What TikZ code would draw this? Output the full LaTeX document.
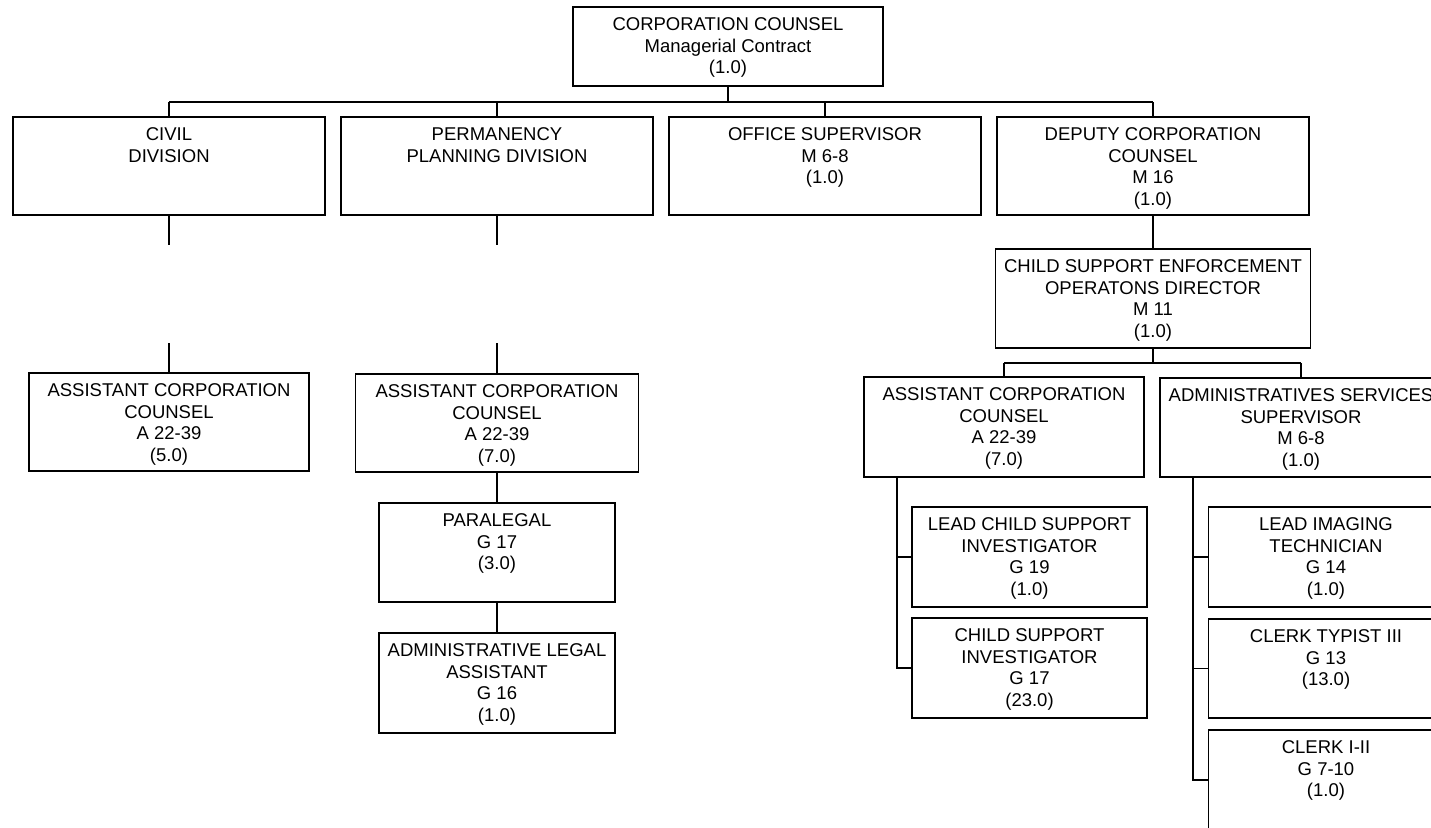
\documentclass[tikz,border=0pt]{standalone}
\usepackage{fontspec}
\setmainfont{Liberation Sans}
\newcommand\obox[6]{%
  \node[obox, minimum width=#4*0.5pt, minimum height=#5*0.5pt, anchor=north] (#1) at (#2,#3) {};
  \node[otxt, anchor=north] (#1-t) at ([yshift=-5.25pt]#1.north) {#6};
}
\begin{document}
\begin{tikzpicture}[x=0.5pt,y=-0.5pt,
  obox/.style={draw=black, line width=0.75pt, inner sep=0pt, outer sep=0pt, rectangle},
  otxt/.style={inner sep=0pt, align=center, font=\fontsize{9.25pt}{10.75pt}\selectfont},
  conn/.style={draw=black, line width=0.75pt}]
\useasboundingbox (0,0) rectangle (1431,828);
\fill[white] (0,0) rectangle (1431,828);
\clip (0,0) rectangle (1431,828);

\obox{top}{728}{7}{310}{79}{CORPORATION COUNSEL\\Managerial Contract\\(1.0)}
\obox{civil}{169}{117}{312}{98}{CIVIL\\DIVISION}
\obox{perm}{497}{117}{312}{98}{PERMANENCY\\PLANNING DIVISION}
\obox{office}{825}{117}{312}{98}{OFFICE SUPERVISOR\\M 6-8\\(1.0)}
\obox{deputy}{1153}{117}{312}{98}{DEPUTY CORPORATION\\COUNSEL\\M 16\\(1.0)}
\obox{cse}{1153}{249}{315}{99}{CHILD SUPPORT ENFORCEMENT\\OPERATONS DIRECTOR\\M 11\\(1.0)}
\obox{accA}{169}{373}{280}{98}{ASSISTANT CORPORATION\\COUNSEL\\A 22-39\\(5.0)}
\obox{accB}{497}{374}{283}{98}{ASSISTANT CORPORATION\\COUNSEL\\A 22-39\\(7.0)}
\obox{para}{497}{503}{236}{99}{PARALEGAL\\G 17\\(3.0)}
\obox{ala}{497}{633}{236}{100}{ADMINISTRATIVE LEGAL\\ASSISTANT\\G 16\\(1.0)}
\obox{accC}{1004}{377}{280}{100}{ASSISTANT CORPORATION\\COUNSEL\\A 22-39\\(7.0)}
\obox{admin}{1301}{378}{282}{99}{ADMINISTRATIVES SERVICES\\SUPERVISOR\\M 6-8\\(1.0)}
\obox{lcsi}{1029.5}{507}{235}{100}{LEAD CHILD SUPPORT\\INVESTIGATOR\\G 19\\(1.0)}
\obox{csi}{1029.5}{618}{235}{100}{CHILD SUPPORT\\INVESTIGATOR\\G 17\\(23.0)}
\obox{li}{1326}{507}{235}{100}{LEAD IMAGING\\TECHNICIAN\\G 14\\(1.0)}
\obox{ct}{1326}{619}{235}{99}{CLERK TYPIST III\\G 13\\(13.0)}
\obox{cii}{1326}{730}{235}{130}{CLERK I-II\\G 7-10\\(1.0)}

% top level bus
\coordinate (busA) at (169,102);
\coordinate (busB) at (1004,363);
\coordinate (gapA) at (0,245);
\coordinate (gapB) at (0,343);
\coordinate (spA) at (897,0);
\coordinate (spB) at (1193,0);

\draw[conn] (civil.north |- busA) -- (deputy.north |- busA);
\draw[conn] (top.south) -- (top.south |- busA);
\draw[conn] (civil.north) -- (civil.north |- busA);
\draw[conn] (perm.north) -- (perm.north |- busA);
\draw[conn] (office.north) -- (office.north |- busA);
\draw[conn] (deputy.north) -- (deputy.north |- busA);

\draw[conn] (civil.south) -- (civil.south |- gapA);
\draw[conn] (accA.north) -- (accA.north |- gapB);
\draw[conn] (perm.south) -- (perm.south |- gapA);
\draw[conn] (accB.north) -- (accB.north |- gapB);

\draw[conn] (accB.south) -- (para.north);
\draw[conn] (para.south) -- (ala.north);

\draw[conn] (deputy.south) -- (cse.north);
\draw[conn] (cse.south) -- (cse.south |- busB);
\draw[conn] (accC.north |- busB) -- (admin.north |- busB);
\draw[conn] (accC.north) -- (accC.north |- busB);
\draw[conn] (admin.north) -- (admin.north |- busB);

\draw[conn] (spA |- accC.south) -- (spA |- csi.west) -- (csi.west);
\draw[conn] (lcsi.west) -- (lcsi.west -| spA);

\coordinate (ciiT) at ([yshift=-25pt]cii.north west);
\draw[conn] (spB |- admin.south) -- (spB |- ciiT) -- (ciiT);
\draw[conn] (li.west) -- (li.west -| spB);
\draw[conn] (ct.west) -- (ct.west -| spB);
\end{tikzpicture}
\end{document}
